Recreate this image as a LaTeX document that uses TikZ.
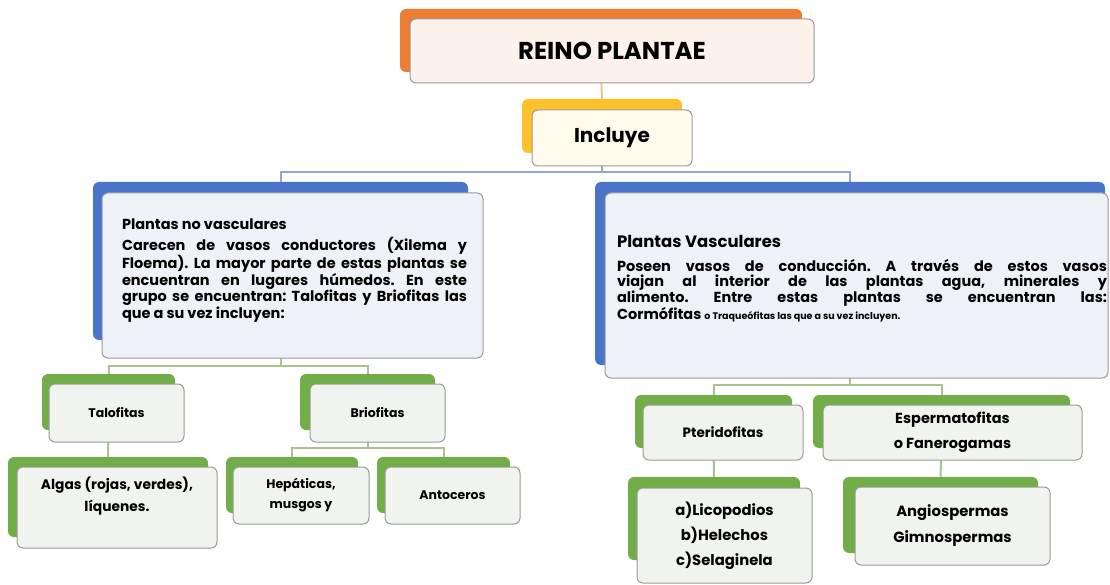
\documentclass[tikz,border=0pt]{standalone}
\usepackage{fontspec}
\setmainfont{Poppins}
\usetikzlibrary{backgrounds}
\definecolor{orangeB}{HTML}{EE7D34}
\definecolor{orangeF}{HTML}{FDF1EC}
\definecolor{yellowB}{HTML}{FDC12A}
\definecolor{yellowF}{HTML}{FFFBEC}
\definecolor{blueB}{HTML}{4A74C9}
\definecolor{blueF}{HTML}{EEF1F8}
\definecolor{greenB}{HTML}{72AE48}
\definecolor{greenF}{HTML}{F1F4EE}
\definecolor{boxline}{HTML}{9A9A9A}
\definecolor{tanline}{HTML}{E3C88E}
\definecolor{blueline}{HTML}{93A6CC}
\definecolor{greenline}{HTML}{A9C38F}

\begin{document}
\begin{tikzpicture}[x=1pt,y=-1pt,
  backbox/.style={rounded corners=6pt,fill=#1,inner sep=0pt},
  frontbox/.style={rounded corners=6pt,draw=boxline,line width=1pt,fill=#1,inner sep=0pt,
    align=center,font=\bfseries\fontsize{12.5}{25}\selectfont},
  bodytxt/.style={inner sep=0pt,align=justify,font=\frenchspacing\bfseries\fontsize{14.5}{15.4}\selectfont},
  link/.style={line width=2pt,draw=#1}]
  \useasboundingbox (0,0) rectangle (1110,585);
  % top
  \node[backbox=orangeB,minimum width=402pt,minimum height=63pt] (reinoB) at (601,40.5) {};
  \node[frontbox=orangeF,minimum width=404pt,minimum height=64pt,font=\bfseries\fontsize{24.4}{28}\selectfont] (reino) at (612,51) {REINO PLANTAE};
  \node[backbox=yellowB,minimum width=160pt,minimum height=54pt] (incB) at (602,126) {};
  \node[frontbox=yellowF,minimum width=160pt,minimum height=56pt,font=\bfseries\fontsize{20}{23}\selectfont] (inc) at (612,138) {Incluye};
  % big boxes
  \node[backbox=blueB,minimum width=375pt,minimum height=158pt] (noVascB) at (280.5,261) {};
  \node[frontbox=blueF,minimum width=381pt,minimum height=165pt] (noVasc) at (292.5,275.5) {};
  \node[bodytxt,text width=345pt] (noVascTxt) at ([xshift=2pt,yshift=5pt]noVasc.center)
    {{\fontsize{14.5}{15}\selectfont Plantas no vasculares}\par\vspace{5pt}
     Carecen de vasos conductores (Xilema y\linebreak Floema). La mayor parte de estas plantas se\linebreak
     encuentran en lugares húmedos. En este\linebreak grupo se encuentran: Talofitas y Briofitas las\linebreak
     que a su vez incluyen:};
  \node[backbox=blueB,minimum width=510pt,minimum height=183pt] (vascB) at (850,273.5) {};
  \node[frontbox=blueF,minimum width=503pt,minimum height=185pt] (vasc) at (856.5,285.5) {};
  \node[bodytxt,text width=490pt,font=\frenchspacing\bfseries\fontsize{14.5}{15.7}\selectfont] (vascTxt) at ([xshift=5.5pt,yshift=7pt]vasc.center)
    {{\fontsize{16.5}{16}\selectfont Plantas Vasculares}\par\vspace{8pt}
     Poseen vasos de conducción. A través de estos vasos\linebreak viajan al interior de las plantas agua, minerales y\linebreak
     alimento. Entre estas plantas se encuentran las:\linebreak
     Cormófitas {\fontsize{9.5}{15.7}\selectfont o Traqueófitas las que a su vez incluyen.}};
  % no vasculares
  \node[backbox=greenB,minimum width=133pt,minimum height=56pt] (talB) at (108.5,402) {};
  \node[frontbox=greenF,minimum width=135pt,minimum height=58pt] (tal) at (116.5,413) {Talofitas};
  \node[backbox=greenB,minimum width=135pt,minimum height=56pt] (briB) at (367.5,402) {};
  \node[frontbox=greenF,minimum width=135pt,minimum height=58pt] (bri) at (377.5,413) {Briofitas};
  \node[backbox=greenB,minimum width=200pt,minimum height=80pt] (algB) at (108,497) {};
  \node[frontbox=greenF,minimum width=200pt,minimum height=81pt] (alg) at (117,507.5) {};
  \node[frontbox=greenF,draw=none,fill=none,font=\bfseries\fontsize{13.8}{22}\selectfont] (algTxt) at ([yshift=11pt]alg.center) {Algas (rojas, verdes),\\ líquenes.};
  \node[backbox=greenB,minimum width=132pt,minimum height=56pt] (hepB) at (292,485) {};
  \node[frontbox=greenF,minimum width=136pt,minimum height=57pt,font=\bfseries\fontsize{12.5}{20}\selectfont] (hep) at (301,495.5) {Hepáticas,\\ musgos y};
  \node[backbox=greenB,minimum width=133pt,minimum height=56pt] (antB) at (443.5,485) {};
  \node[frontbox=greenF,minimum width=135pt,minimum height=57pt] (ant) at (452.5,495.5) {Antoceros};
  % vasculares
  \node[backbox=greenB,minimum width=157pt,minimum height=53pt] (pteB) at (713.5,421.5) {};
  \node[frontbox=greenF,minimum width=160pt,minimum height=55pt,font=\bfseries\fontsize{13.5}{25}\selectfont] (pte) at (723,432.5) {Pteridofitas};
  \node[backbox=greenB,minimum width=257pt,minimum height=53pt] (espB) at (941.5,421.5) {};
  \node[frontbox=greenF,minimum width=259pt,minimum height=55pt,font=\bfseries\fontsize{14.5}{25}\selectfont] (esp) at (952.5,432.5) {Espermatofitas\\ o Fanerogamas};
  \node[backbox=greenB,minimum width=172pt,minimum height=83pt] (licB) at (714,518.5) {};
  \node[frontbox=greenF,minimum width=175pt,minimum height=95pt,font=\bfseries\fontsize{14.8}{25}\selectfont] (lic) at (724.5,535.5) {a)Licopodios\\ b)Helechos\\ c)Selaginela};
  \node[backbox=greenB,minimum width=195pt,minimum height=76pt] (angB) at (940.5,515) {};
  \node[frontbox=greenF,minimum width=195pt,minimum height=78pt,font=\bfseries\fontsize{14.8}{26}\selectfont] (ang) at (952.5,526) {Angiospermas\\ Gimnospermas};
  % connectors
  \begin{scope}[on background layer]
    \draw[link=tanline] (reinoB.south) -- (incB.north);
    \draw[link=blueline] (incB.south) -- ++(0,19) -| (noVascB.north);
    \draw[link=blueline] (incB.south) -- ++(0,19) -| (vascB.north);
    \draw[link=greenline] (noVascB.south) -- ++(0,26) -| (talB.north);
    \draw[link=greenline] (noVascB.south) -- ++(0,26) -| (briB.north);
    \draw[link=greenline] (talB.south) -- (algB.north);
    \draw[link=greenline] (briB.south) -- ++(0,18) -| (hepB.north);
    \draw[link=greenline] (briB.south) -- ++(0,18) -| (antB.north);
    \draw[link=greenline] (vascB.south) -- ++(0,20) -| (pteB.north);
    \draw[link=greenline] (vascB.south) -- ++(0,20) -| (espB.north);
    \draw[link=greenline] (pteB.south) -- (licB.north);
    \draw[link=greenline] (espB.south) -- (angB.north);
  \end{scope}
\end{tikzpicture}
\end{document}
